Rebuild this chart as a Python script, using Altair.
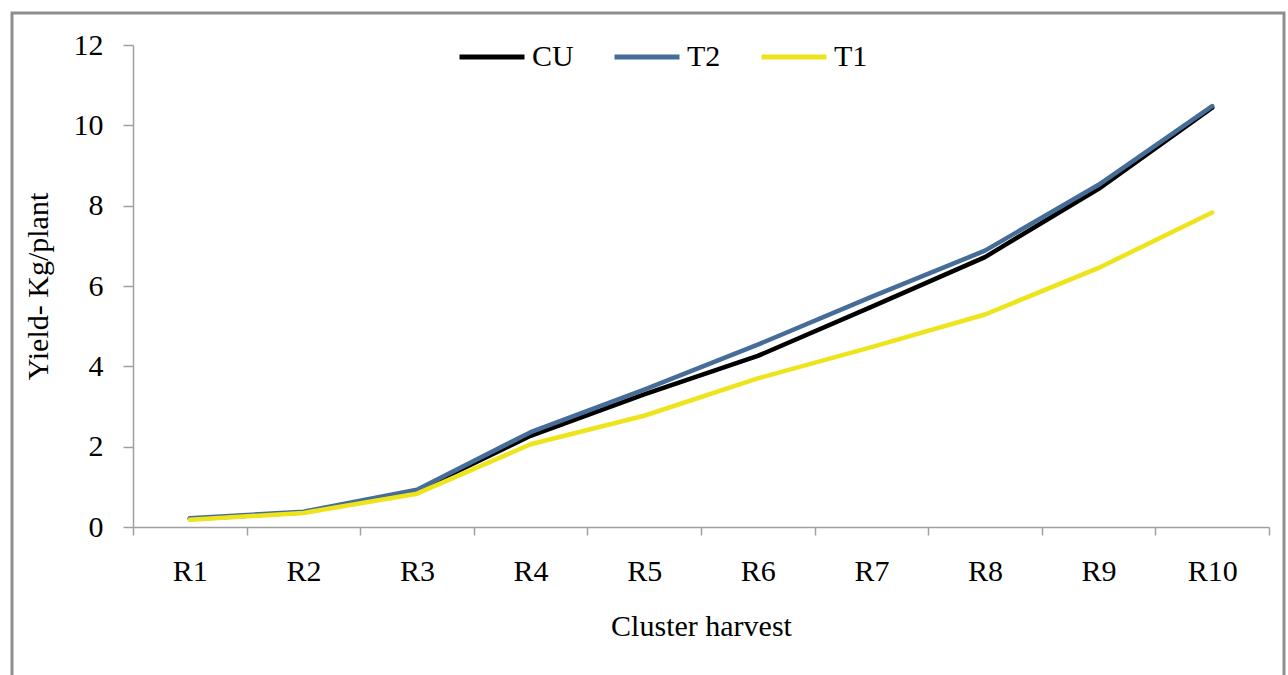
import altair as alt
import pandas as pd

# Harvest rounds and cumulative yield (kg per plant) for each treatment
rounds = ["R1", "R2", "R3", "R4", "R5", "R6", "R7", "R8", "R9", "R10"]
cu = [0.20, 0.36, 0.90, 2.27, 3.30, 4.26, 5.48, 6.72, 8.42, 10.44]
t2 = [0.22, 0.38, 0.93, 2.36, 3.42, 4.54, 5.73, 6.88, 8.52, 10.48]
t1 = [0.18, 0.35, 0.83, 2.06, 2.77, 3.70, 4.48, 5.29, 6.45, 7.83]

series = ["CU", "T2", "T1"]
colors = ["#000000", "#456d98", "#eee41c"]

rows = []
for name, vals in zip(series, [cu, t2, t1]):
    for r, v in zip(rounds, vals):
        rows.append({"round": r, "yield": v, "series": name, "order": series.index(name)})
df = pd.DataFrame(rows)

FONT = "Liberation Serif"
AXIS_GRAY = "#a0a0a0"
FS = 30

W, H = 1136, 482

lines = alt.Chart(df).mark_line(strokeWidth=4.5, strokeCap="round", strokeJoin="round").encode(
    x=alt.X(
        "round:N",
        sort=rounds,
        scale=alt.Scale(type="band", paddingInner=0, paddingOuter=0),
        axis=alt.Axis(
            title="Cluster harvest",
            labelAngle=0,
            tickBand="extent",
            tickSize=8,
            labelPadding=21,
            titleY=99,
            titleBaseline="middle",
        ),
    ),
    y=alt.Y(
        "yield:Q",
        scale=alt.Scale(domain=[0, 12], nice=False, zero=True),
        axis=alt.Axis(
            title="Yield- Kg/plant",
            values=[0, 2, 4, 6, 8, 10, 12],
            tickSize=10,
            labelPadding=20,
            grid=False,
            titleX=-95,
            titleY=H / 2,
            titleBaseline="middle",
        ),
    ),
    color=alt.Color(
        "series:N",
        scale=alt.Scale(domain=series, range=colors),
        legend=alt.Legend(
            title=None,
            orient="none",
            direction="horizontal",
            legendX=324,
            legendY=-23,
            symbolType="stroke",
            symbolSize=4225,
            symbolStrokeWidth=5,
            labelOffset=5,
            columnPadding=30,
            labelFontSize=FS,
            labelFont=FONT,
            labelColor="#000000",
            padding=0,
        ),
    ),
    detail="series:N",
    order="order:Q",
)

# Outer frame around the whole figure
frame = alt.Chart(alt.Data(values=[{}])).mark_rect(
    filled=False, stroke="#8e8e8e", strokeWidth=3
).encode(
    x=alt.value(-121), x2=alt.value(1151), y=alt.value(-32), y2=alt.value(700)
)

chart = (
    alt.layer(frame, lines)
    .properties(
        width=W,
        height=H,
        autosize=alt.AutoSizeParams(type="none"),
        padding={"left": 133, "top": 45, "right": 1288 - 133 - W, "bottom": 675 - 45 - H},
        background="white",
    )
    .configure_view(stroke=None)
    .configure_axis(
        domainColor=AXIS_GRAY,
        domainWidth=1.5,
        tickColor=AXIS_GRAY,
        tickWidth=1.5,
        labelFont=FONT,
        labelFontSize=FS,
        labelColor="#000000",
        titleFont=FONT,
        titleFontSize=FS,
        titleFontWeight="normal",
        titleColor="#000000",
    )
)

chart.save("out.html", embed_options={"renderer": "svg", "actions": False})
